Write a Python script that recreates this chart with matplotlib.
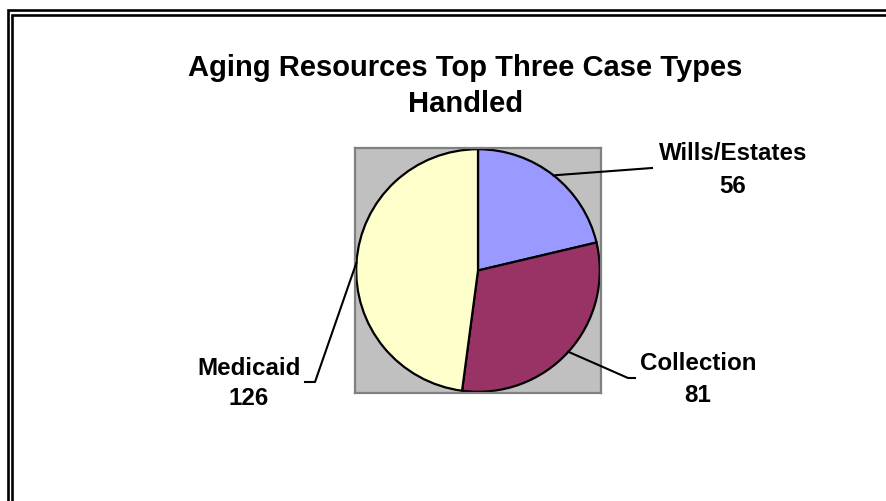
import numpy as np
import matplotlib.pyplot as plt
from matplotlib.lines import Line2D

plt.rcParams['font.family'] = ['Liberation Sans', 'DejaVu Sans']

# case counts
case_types = ['Wills/Estates', 'Collection', 'Medicaid']
case_counts = [56, 81, 126]
slice_colors = ['#9999FF', '#993366', '#FFFFCC']

title_lines = ['Aging Resources Top Three Case Types', 'Handled']

W, H = 887, 501
fig = plt.figure(figsize=(W / 100, H / 100), dpi=100)


def px(x, y):
    # pixel coords measured from the top-left corner -> figure fraction
    return x / W, 1 - y / H


def fig_line(xs, ys, **kw):
    pts = [px(x, y) for x, y in zip(xs, ys)]
    fig.add_artist(Line2D([p[0] for p in pts], [p[1] for p in pts],
                          transform=fig.transFigure, **kw))


# double border on the top and left
fig_line([8, 8, W + 5], [H + 5, 10, 10], color='black', lw=1.9,
         solid_joinstyle='miter')
fig_line([12, 12, W + 5], [H + 5, 15, 15], color='black', lw=1.9,
         solid_joinstyle='miter')

# plot area with the pie
ax = fig.add_axes([355 / W, (H - 393) / H, 246 / W, 245 / H])
wedges, _ = ax.pie(case_counts, colors=slice_colors, startangle=90,
                   counterclock=False, radius=1.0, frame=True,
                   wedgeprops=dict(edgecolor='black', linewidth=1.6))
ax.set_facecolor('#C0C0C0')
ax.set_frame_on(True)
for s in ax.spines.values():
    s.set_visible(True)
    s.set_color('#808080')
    s.set_linewidth(1.6)
ax.set_xticks([])
ax.set_yticks([])
ax.set_xlim(-1.01, 1.01)
ax.set_ylim(-1.01, 1.01)
ax.set_aspect('auto')

# label positions (px from top-left): text centre x, name baseline, value baseline
label_pos = {
    'Wills/Estates': (733, 160, 193),
    'Collection': (698, 370, 402),
    'Medicaid': (249, 375, 405),
}
# leader line path after leaving the pie edge
leader_path = {
    'Wills/Estates': [(652, 168)],
    'Collection': [(628, 378), (635, 378)],
    'Medicaid': [(315, 382), (305, 382)],
}

fig.canvas.draw()
for w, name, cnt in zip(wedges, case_types, case_counts):
    mid = np.deg2rad((w.theta1 + w.theta2) / 2)
    ex, ey = ax.transData.transform((np.cos(mid), np.sin(mid)))
    sx, sy = ex, H - ey
    xs = [sx] + [p[0] for p in leader_path[name]]
    ys = [sy] + [p[1] for p in leader_path[name]]
    fig_line(xs, ys, color='black', lw=1.5)

    cx, by1, by2 = label_pos[name]
    fig.text(*px(cx, by1), name, ha='center', va='baseline',
             fontsize=17.4, fontweight='bold')
    fig.text(*px(cx, by2), f'{cnt}', ha='center', va='baseline',
             fontsize=17.4, fontweight='bold')

fig.text(*px(465.5, 76), title_lines[0], ha='center', va='baseline',
         fontsize=21, fontweight='bold')
fig.text(*px(465.5, 112), title_lines[1], ha='center', va='baseline',
         fontsize=21, fontweight='bold')

fig.savefig('out.png', dpi=100)
